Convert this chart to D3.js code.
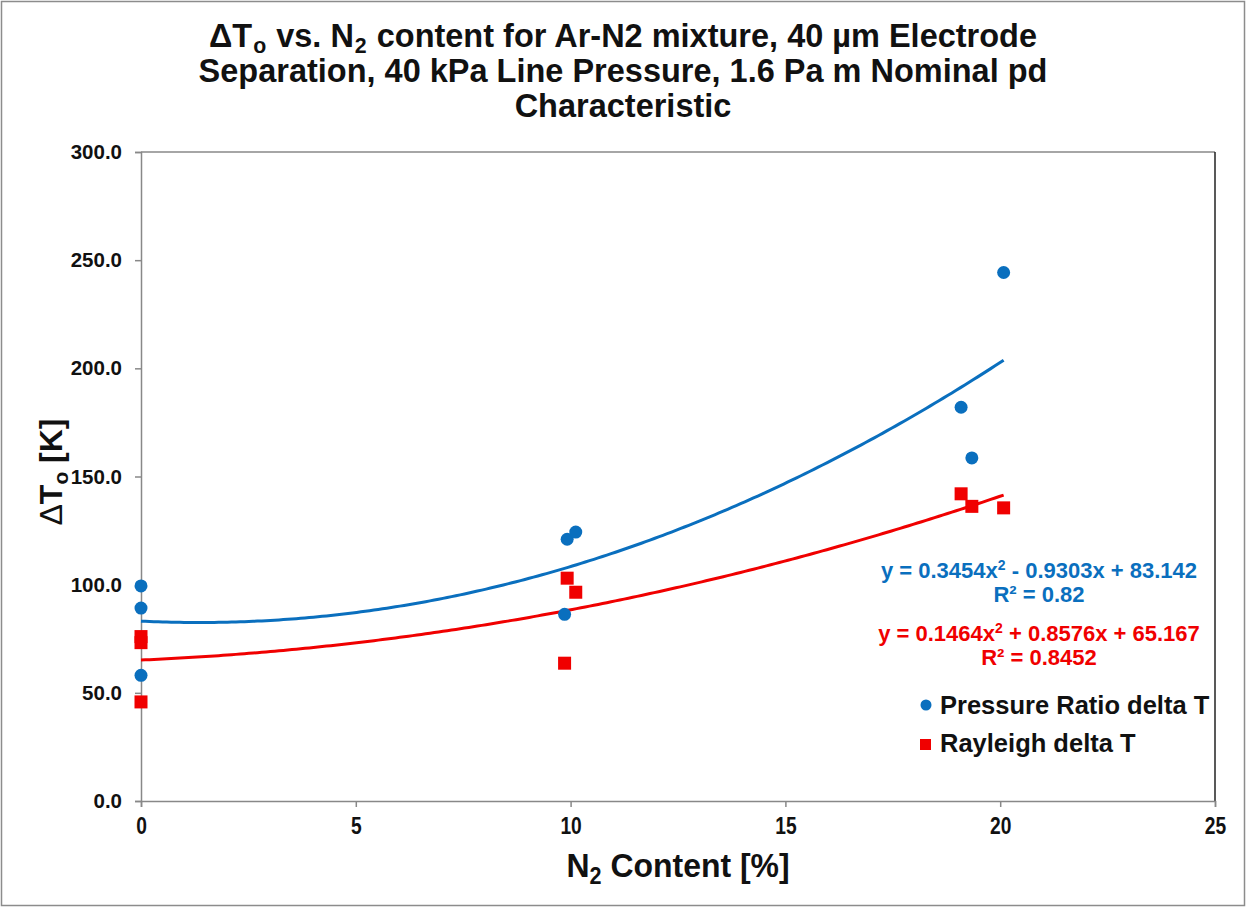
<!DOCTYPE html>
<html>
<head>
<meta charset="utf-8">
<script src="https://cdn.jsdelivr.net/npm/d3@7"></script>
<style>
  body { margin: 0; background: #fff; }
  text { font-family: "Liberation Sans", Arial, sans-serif; font-weight: bold; }
</style>
</head>
<body>
<script>
'use strict';

// N2 content [%] and delta T [K]
var pressureX = [0, 0, 0, 9.92, 10.12, 9.86, 19.09, 19.34, 20.08];
var pressureY = [99.4, 89.2, 58.1, 121, 124.3, 86.3, 182, 158.6, 244.3];
var rayleighX = [0, 0, 0, 9.92, 10.12, 9.86, 19.09, 19.34, 20.08];
var rayleighY = [76, 73.2, 45.8, 103, 96.5, 63.7, 142, 136.2, 135.5];

// polynomial trendline coefficients [x^2, x, c] as printed
var pressureFit = [0.3454, -0.9303, 83.142];
var rayleighFit = [0.1464, 0.8576, 65.167];
var pressureEq = ['y = 0.3454x', ' - 0.9303x + 83.142', 'R² = 0.82'];
var rayleighEq = ['y = 0.1464x', ' + 0.8576x + 65.167', 'R² = 0.8452'];

var xTicks = [0, 5, 10, 15, 20, 25];
var yTicks = [0, 50, 100, 150, 200, 250, 300];
var seriesNames = ['Pressure Ratio delta T', 'Rayleigh delta T'];

var blue = '#0a6fbe', red = '#f00000';
var width = 1247, height = 907;
var mLeft = 141, mRight = 1215, mTop = 152, mBottom = 801;

var svg = d3.select('body').append('svg')
  .attr('width', width)
  .attr('height', height);

// outer chart border
svg.append('rect')
  .attr('x', 1.5).attr('y', 1.5)
  .attr('width', width - 4).attr('height', height - 3)
  .attr('fill', '#fff').attr('stroke', '#8c8c8c').attr('stroke-width', 1.5);

var x = d3.scaleLinear().domain([0, 25]).range([mLeft, mRight]);
var y = d3.scaleLinear().domain([0, 300]).range([mBottom, mTop]);

// plot border top / right
svg.append('line')
  .attr('x1', mLeft).attr('x2', mRight).attr('y1', mTop).attr('y2', mTop)
  .attr('stroke', '#888').attr('stroke-width', 1.5);
svg.append('line')
  .attr('x1', mRight).attr('x2', mRight).attr('y1', mTop).attr('y2', mBottom)
  .attr('stroke', '#222').attr('stroke-width', 1.5);

var xAxis = svg.append('g')
  .attr('transform', 'translate(0,' + mBottom + ')')
  .call(d3.axisBottom(x).tickValues(xTicks).tickSize(6).tickPadding(10).tickFormat(d3.format('d')));
var yAxis = svg.append('g')
  .attr('transform', 'translate(' + mLeft + ',0)')
  .call(d3.axisLeft(y).tickValues(yTicks).tickSize(6).tickPadding(13).tickFormat(d3.format('.1f')));

[xAxis, yAxis].forEach(function (g) {
  g.select('.domain').attr('stroke', '#888').attr('stroke-width', 1.5);
  g.selectAll('.tick line').attr('stroke', '#888').attr('stroke-width', 1.5);
  g.selectAll('.tick text')
    .attr('fill', '#111')
    .style('font-family', '"Liberation Sans", Arial, sans-serif')
    .style('font-weight', 'bold');
});
yAxis.selectAll('.tick text').attr('font-size', 20.5);
// condensed x tick labels
xAxis.selectAll('.tick text').attr('font-size', 24).attr('transform', 'scale(0.8,1)');

// trendlines
function poly(c) { return function (v) { return c[0] * v * v + c[1] * v + c[2]; }; }
function trend(xs, c, color) {
  var f = poly(c), xmax = d3.max(xs);
  var pts = d3.range(0, 201).map(function (i) { var v = xmax * i / 200; return [v, f(v)]; });
  svg.append('path')
    .datum(pts)
    .attr('fill', 'none').attr('stroke', color).attr('stroke-width', 3)
    .attr('d', d3.line().x(function (d) { return x(d[0]); }).y(function (d) { return y(d[1]); }));
}
trend(pressureX, pressureFit, blue);
trend(rayleighX, rayleighFit, red);

// markers
var pData = pressureX.map(function (v, i) { return {x: v, y: pressureY[i]}; });
var rData = rayleighX.map(function (v, i) { return {x: v, y: rayleighY[i]}; });

svg.append('g').selectAll('circle')
  .data(pData).enter().append('circle')
  .attr('cx', function (d) { return x(d.x); })
  .attr('cy', function (d) { return y(d.y); })
  .attr('r', 6.5).attr('fill', blue);

var sq = 13;
svg.append('g').selectAll('rect')
  .data(rData).enter().append('rect')
  .attr('x', function (d) { return x(d.x) - sq / 2; })
  .attr('y', function (d) { return y(d.y) - sq / 2; })
  .attr('width', sq).attr('height', sq).attr('fill', red);

// equations
function equation(lines, color, yBase) {
  var t = svg.append('text')
    .attr('x', 1039).attr('y', yBase)
    .attr('text-anchor', 'middle').attr('font-size', 22).attr('fill', color);
  t.append('tspan').text(lines[0]);
  t.append('tspan').attr('font-size', 14).attr('dy', -8).text('2');
  t.append('tspan').attr('dy', 8).text(lines[1]);
  svg.append('text')
    .attr('x', 1039).attr('y', yBase + 24)
    .attr('text-anchor', 'middle').attr('font-size', 22).attr('fill', color)
    .text(lines[2]);
}
equation(pressureEq, blue, 578);
equation(rayleighEq, red, 641);

// legend
var legend = svg.append('g');
legend.append('circle').attr('cx', 926).attr('cy', 705).attr('r', 5.5).attr('fill', blue);
legend.append('rect').attr('x', 920).attr('y', 739).attr('width', 11).attr('height', 11).attr('fill', red);
legend.selectAll('text.leg')
  .data(seriesNames).enter().append('text')
  .attr('class', 'leg')
  .attr('x', 940)
  .attr('y', function (d, i) { return 714 + i * 38; })
  .attr('font-size', 25.5).attr('fill', '#111')
  .text(function (d) { return d; });

// title
var titleLines = [
  [['ΔT', 0], ['o', 1], [' vs. N', 0], ['2', 1], [' content for Ar-N2 mixture, 40 µm Electrode', 0]],
  [['Separation, 40 kPa Line Pressure, 1.6 Pa m Nominal pd', 0]],
  [['Characteristic', 0]]
];
var title = svg.append('g').attr('transform', 'translate(623,0) scale(0.97,1)');
titleLines.forEach(function (parts, i) {
  var t = title.append('text')
    .attr('x', 0).attr('y', 47 + i * 35)
    .attr('text-anchor', 'middle').attr('font-size', 33.5).attr('fill', '#111');
  parts.forEach(function (p, j) {
    var s = t.append('tspan').text(p[0]);
    if (p[1]) s.attr('font-size', 22).attr('dy', 6).attr('dx', 1);
    else if (j > 0) s.attr('dy', -6).attr('dx', 1);
  });
});

// x axis title
var xt = svg.append('g').attr('transform', 'translate(' + (mLeft + mRight) / 2 + ',877) scale(0.94,1)')
  .append('text').attr('text-anchor', 'middle').attr('font-size', 34).attr('fill', '#111');
xt.append('tspan').text('N');
xt.append('tspan').attr('font-size', 23).attr('dy', 7).text('2');
xt.append('tspan').attr('dy', -7).text(' Content [%]');

// y axis title
var yt = svg.append('text')
  .attr('transform', 'translate(62,472) rotate(-90)')
  .attr('text-anchor', 'middle').attr('font-size', 32).attr('fill', '#111');
yt.append('tspan').style('font-weight', 'normal').text('Δ');
yt.append('tspan').text('T');
yt.append('tspan').attr('font-size', 21).attr('dy', 6).text('o');
yt.append('tspan').attr('dy', -6).text(' [K]');
</script>
</body>
</html>
